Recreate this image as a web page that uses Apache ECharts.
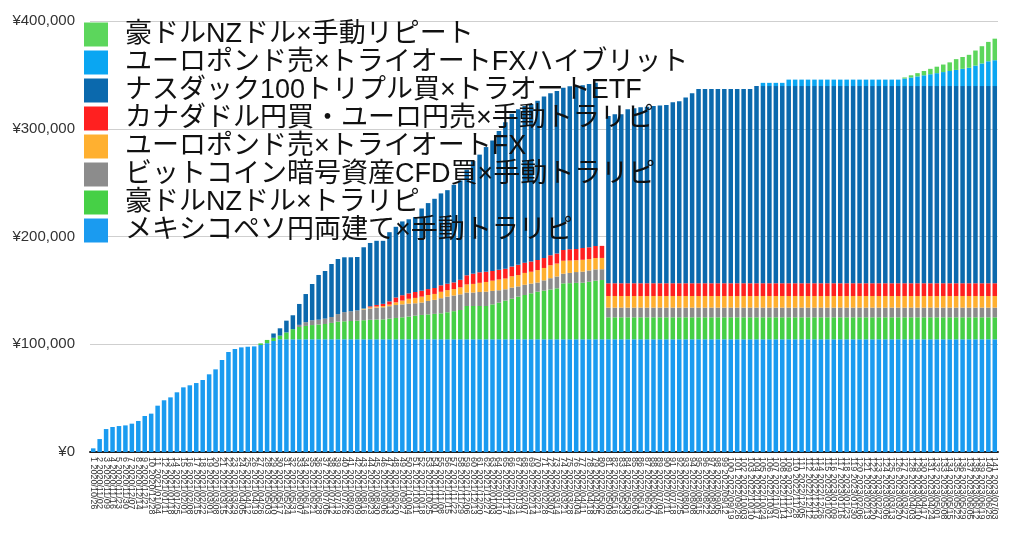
<!DOCTYPE html>
<html><head><meta charset="utf-8">
<script src="https://cdn.jsdelivr.net/npm/echarts@6/dist/echarts.min.js"></script>
<style>html,body{margin:0;padding:0;background:#fff}#c{width:1024px;height:548px}</style>
</head><body><div id="c"></div>
<script>
const dates = [
"2020/10/26","2020/11/02","2020/11/09","2020/11/16","2020/11/23","2020/11/30","2020/12/07","2020/12/14","2020/12/21","2020/12/28",
"2021/01/04","2021/01/11","2021/01/18","2021/01/25","2021/02/01","2021/02/08","2021/02/15","2021/02/22","2021/03/01","2021/03/08",
"2021/03/15","2021/03/22","2021/03/29","2021/04/05","2021/04/12","2021/04/19","2021/04/26","2021/05/03","2021/05/10","2021/05/17",
"2021/05/24","2021/05/31","2021/06/07","2021/06/14","2021/06/21","2021/06/28","2021/07/05","2021/07/12","2021/07/19","2021/07/26",
"2021/08/02","2021/08/09","2021/08/16","2021/08/23","2021/08/30","2021/09/06","2021/09/13","2021/09/20","2021/09/27","2021/10/04",
"2021/10/11","2021/10/18","2021/10/25","2021/11/01","2021/11/08","2021/11/15","2021/11/22","2021/11/29","2021/12/06","2021/12/13",
"2021/12/20","2021/12/27","2022/01/03","2022/01/10","2022/01/17","2022/01/24","2022/01/31","2022/02/07","2022/02/14","2022/02/21",
"2022/02/28","2022/03/07","2022/03/14","2022/03/21","2022/03/28","2022/04/04","2022/04/11","2022/04/18","2022/04/25","2022/05/02",
"2022/05/09","2022/05/16","2022/05/23","2022/05/30","2022/06/06","2022/06/13","2022/06/20","2022/06/27","2022/07/04","2022/07/11",
"2022/07/18","2022/07/25","2022/08/01","2022/08/08","2022/08/15","2022/08/22","2022/08/29","2022/09/05","2022/09/12","2022/09/19",
"2022/09/26","2022/10/03","2022/10/10","2022/10/17","2022/10/24","2022/10/31","2022/11/07","2022/11/14","2022/11/21","2022/11/28",
"2022/12/05","2022/12/12","2022/12/19","2022/12/26","2023/01/02","2023/01/09","2023/01/16","2023/01/23","2023/01/30","2023/02/06",
"2023/02/13","2023/02/20","2023/02/27","2023/03/06","2023/03/13","2023/03/20","2023/03/27","2023/04/03","2023/04/10","2023/04/17",
"2023/04/24","2023/05/01","2023/05/08","2023/05/15","2023/05/22","2023/05/29","2023/06/05","2023/06/12","2023/06/19","2023/06/26",
"2023/07/03"];

const seriesNames = [
"メキシコペソ円両建て×手動トラリピ",
"豪ドルNZドル×トラリピ",
"ビットコイン暗号資産CFD買×手動トラリピ",
"ユーロポンド売×トライオートFX",
"カナダドル円買・ユーロ円売×手動トラリピ",
"ナスダック100トリプル買×トラオートETF",
"ユーロポンド売×トライオートFXハイブリット",
"豪ドルNZドル×手動リピート"];

const colors = ["#1a9bf0","#46d046","#8c8c8c","#ffb030","#ff2020","#0b69ad","#0aa6f2","#5cd65c"];

// values in thousand yen, one per week (141)
const mexico = [3.4,12,21.3,23.2,24.1,24.7,26.3,28.8,33.4,35.6,43,48,50.7,55.4,60,61.9,64,66.8,72.1,76.7,
85.4,92.8,95.6,97.1,97.7,98,99.3,101,103,104.6,104.6,104.6,104.6,104.6,104.6,104.6,104.6,104.6,104.6,104.6,
104.6,104.6,104.6,104.6,104.6,104.6,104.6,104.6,104.6,104.6,104.6,104.6,104.6,104.6,104.6,104.6,104.6,104.6,104.6,104.6,
104.6,104.6,104.6,104.6,104.6,104.6,104.6,104.6,104.6,104.6,104.6,104.6,104.6,104.6,104.6,104.6,104.6,104.6,104.6,104.6,
104.6,104.6,104.6,104.6,104.6,104.6,104.6,104.6,104.6,104.6,104.6,104.6,104.6,104.6,104.6,104.6,104.6,104.6,104.6,104.6,
104.6,104.6,104.6,104.6,104.6,104.6,104.6,104.6,104.6,104.6,104.6,104.6,104.6,104.6,104.6,104.6,104.6,104.6,104.6,104.6,
104.6,104.6,104.6,104.6,104.6,104.6,104.6,104.6,104.6,104.6,104.6,104.6,104.6,104.6,104.6,104.6,104.6,104.6,104.6,104.6,104.6];

const audnzdTrap = [0,0,0,0,0,0,0,0,0,0,0,0,0,0,0,0,0,0,0,0,0,0,0,0,0,0,
1.5,3,3,3.4,6.4,9.4,11.4,12.4,13.2,13.7,14.2,15.2,16.4,16.7,17,17.3,17.7,18.1,18.4,18.5,19.2,19.8,20.4,21.1,
21.9,22.6,23.1,23.6,24.1,25.1,26.1,27.2,30.9,30.9,30.9,30.9,32.4,34,35.9,37.7,39.6,41.1,42.7,44.2,
45.2,46.2,47.3,51.9,52.1,52.4,52.5,53.4,54.4,55,
20.4,20.4,20.4,20.4,20.4,20.4,20.4,20.4,20.4,20.4,20.4,20.4,20.4,20.4,20.4,20.4,20.4,20.4,20.4,20.4,
20.4,20.4,20.4,20.4,20.4,20.4,20.4,20.4,20.4,20.4,20.4,20.4,20.4,20.4,20.4,20.4,20.4,20.4,20.4,20.4,
20.4,20.4,20.4,20.4,20.4,20.4,20.4,20.4,20.4,20.4,20.4,20.4,20.4,20.4,20.4,20.4,20.4,20.4,20.4,20.4,20.4];

const bitcoin = [0,0,0,0,0,0,0,0,0,0,0,0,0,0,0,0,0,0,0,0,0,0,0,0,0,0,0,0,0,0,0,0,
2,3.5,4.5,4.5,5,5.5,7,8.5,9,9.5,10,10.5,11,11.2,11.5,12,12,12,11.5,11.5,12.5,13,14,14.5,14.5,14.5,
12.5,12.5,13,13.3,12.5,11.5,10.5,10.3,9.5,9.5,9,8.5,9.5,10.5,11,9,9.5,10,10.3,10.5,10.5,10,
9,9,9,9,9,9,9,9,9,9,9,9,9,9,9,9,9,9,9,9,9,9,9,9,9,9,9,9,9,9,9,9,9,9,9,9,9,9,9,9,
9,9,9,9,9,9,9,9,9,9,9,9,9,9,9,9,9,9,9,9,9];

const eurgbpTri = [0,0,0,0,0,0,0,0,0,0,0,0,0,0,0,0,0,0,0,0,0,0,0,0,0,0,0,0,0,0,0,0,0,0,0,0,0,0,0,0,0,0,
0.8,1,1,1.2,1.5,2.5,3.5,4.5,5,5.5,5.5,5.5,6,6,6,6.5,7.5,8,8.5,9,9.5,10,10,10.5,10.5,11,11,11.5,11.5,12,12,12,
11.5,11,11,10.5,10.5,10.5,
10.8,10.8,10.8,10.8,10.8,10.8,10.8,10.8,10.8,10.8,10.8,10.8,10.8,10.8,10.8,10.8,10.8,10.8,10.8,10.8,
10.8,10.8,10.8,10.8,10.8,10.8,10.8,10.8,10.8,10.8,10.8,10.8,10.8,10.8,10.8,10.8,10.8,10.8,10.8,10.8,
10.8,10.8,10.8,10.8,10.8,10.8,10.8,10.8,10.8,10.8,10.8,10.8,10.8,10.8,10.8,10.8,10.8,10.8,10.8,10.8,10.8];

const cadEur = [0,0,0,0,0,0,0,0,0,0,0,0,0,0,0,0,0,0,0,0,0,0,0,0,0,0,0,0,0,0,0,0,0,0,0,0,0,0,0,0,0,0,0,
1,1.5,2,3,4.5,5,5,5.5,5.5,5.5,5.5,6,6,6.2,7,8.5,9.5,9.8,9.5,9,9,9,9,9.5,9.5,9.5,9.5,9.3,9.3,9.3,10,10.5,10.5,11,11,11.2,11.2,
11.8,11.8,11.8,11.8,11.8,11.8,11.8,11.8,11.8,11.8,11.8,11.8,11.8,11.8,11.8,11.8,11.8,11.8,11.8,11.8,
11.8,11.8,11.8,11.8,11.8,11.8,11.8,11.8,11.8,11.8,11.8,11.8,11.8,11.8,11.8,11.8,11.8,11.8,11.8,11.8,
11.8,11.8,11.8,11.8,11.8,11.8,11.8,11.8,11.8,11.8,11.8,11.8,11.8,11.8,11.8,11.8,11.8,11.8,11.8,11.8,11.8];

// stack top of the Nasdaq layer (thousand yen); 0 = no Nasdaq value
const nasdaqTop = [0,0,0,0,0,0,0,0,0,0,0,0,0,0,0,0,0,0,0,0,0,0,0,0,0,0,0,0,
110,114.8,121.9,126.9,137.4,146.6,155.9,164.3,168,174.5,179.1,180.7,180.7,181,190,194,196,196,204,209,214,216,
218,226,231,235,240,243,248,252,262,270,276,283,289,298,306,314,318,321,323,326,330,333,335,338,339.5,340,340.4,341.5,342.6,0,
311.8,313.4,313.4,318,319,320,320.5,321,321.5,322,324.5,325.5,329,333,337,337,337,337,337,337,337,337,337,339.7,
339.6,339.6,339.6,339.6,339.6,339.6,339.6,339.6,339.6,339.6,339.6,339.6,339.6,339.6,339.6,339.6,339.6,339.6,339.6,339.6,
339.6,339.6,339.6,339.6,339.6,339.6,339.6,339.6,339.6,339.6,339.6,339.6,339.6,339.6,339.6,339.6,339.6];

const eurgbpHybrid = [0,0,0,0,0,0,0,0,0,0,0,0,0,0,0,0,0,0,0,0,0,0,0,0,0,0,0,0,0,0,0,0,0,0,0,0,0,0,0,0,
0,0,0,0,0,0,0,0,0,0,0,0,0,0,0,0,0,0,0,0,0,0,0,0,0,0,0,0,0,0,0,0,0,0,0,0,0,0,0,0,
0,0,0,0,0,0,0,0,0,0,0,0,0,0,0,0,0,0,0,0,0,0,0,0,
3,3,3,3,6,6,6,6,6,6,6,6,6,6,6,6,6,6,6,6,6,6,7,8,9,10,11,12,13,14,15,16,17,19,21,23,24];

const audnzdManual = [0,0,0,0,0,0,0,0,0,0,0,0,0,0,0,0,0,0,0,0,0,0,0,0,0,0,0,0,0,0,0,0,0,0,0,0,0,0,0,0,
0,0,0,0,0,0,0,0,0,0,0,0,0,0,0,0,0,0,0,0,0,0,0,0,0,0,0,0,0,0,0,0,0,0,0,0,0,0,0,0,
0,0,0,0,0,0,0,0,0,0,0,0,0,0,0,0,0,0,0,0,0,0,0,0,0,0,0,0,0,0,0,0,0,0,0,0,0,0,0,0,0,0,0,0,0,0,
1,2,3,4,5,6,7,8,10,11,12,14,16,18,20];

const yTicks = [0,100000,200000,300000,400000];

const categories = dates.map((d,i)=> (i+1) + " " + d);
const lower = mexico.map((v,i)=> v + audnzdTrap[i] + bitcoin[i] + eurgbpTri[i] + cadEur[i]);
const nasdaq = nasdaqTop.map((t,i)=> t > 0 ? +(t - lower[i]).toFixed(1) : 0);

const layers = [mexico, audnzdTrap, bitcoin, eurgbpTri, cadEur, nasdaq, eurgbpHybrid, audnzdManual];

const chart = echarts.init(document.getElementById('c'), null, {renderer:'canvas'});
chart.setOption({
  animation:false,
  color: colors,
  grid:{left:90, right:26, top:21, bottom:96, containLabel:false},
  legend:{
    orient:'vertical', left:79, top:16, z:20,
    data: seriesNames.slice().reverse(),
    icon:'rect', itemWidth:24, itemHeight:24, itemGap:1,
    textStyle:{fontSize:27, color:'#111', fontFamily:'"Liberation Sans", "Noto Sans CJK JP", sans-serif', padding:[0,0,0,12], lineHeight:26}
  },
  xAxis:{
    type:'category', data:categories,
    axisLine:{lineStyle:{color:'#222', width:2}},
    axisTick:{show:false},
    axisLabel:{interval:0, rotate:-90, fontSize:9, color:'#333', margin:5, fontFamily:'"Liberation Sans", sans-serif'}
  },
  yAxis:{
    type:'value', min:yTicks[0], max:yTicks[yTicks.length-1], interval:yTicks[1]-yTicks[0],
    axisLine:{show:false}, axisTick:{show:false},
    splitLine:{lineStyle:{color:'#cfcfcf', width:1}},
    axisLabel:{margin:15, fontSize:15, color:'#333', fontFamily:'"Liberation Sans", sans-serif',
      formatter:v=>'¥'+v.toLocaleString('en-US')}
  },
  series: layers.map((arr,k)=>({
    name: seriesNames[k], type:'bar', stack:'total', barCategoryGap:'30%',
    data: arr.map(v=>Math.round(v*1000)), itemStyle:{color:colors[k]}
  }))
});
</script></body></html>
